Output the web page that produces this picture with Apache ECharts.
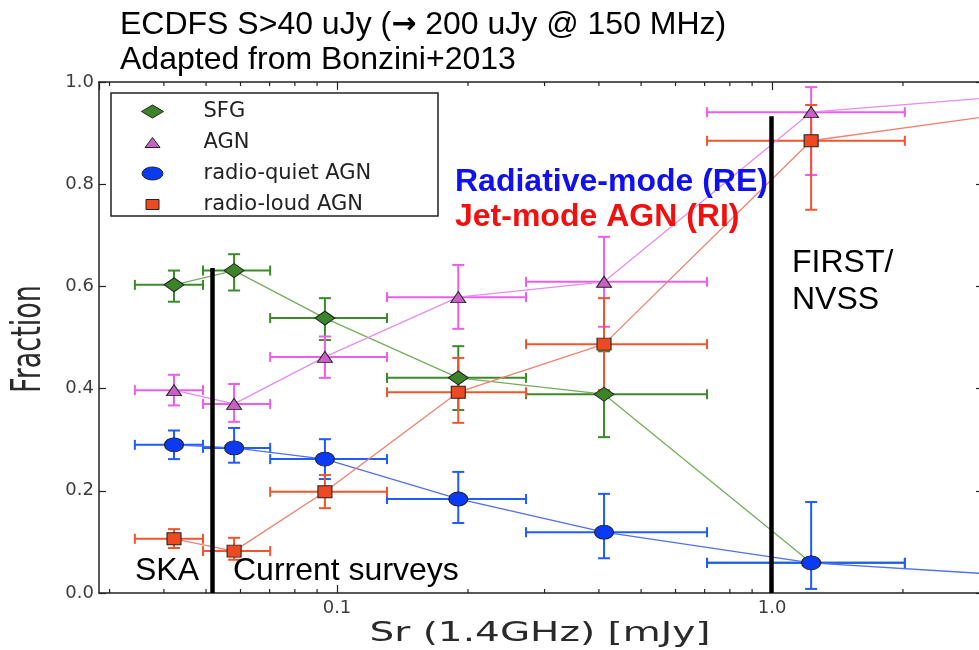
<!DOCTYPE html>
<html><head><meta charset="utf-8">
<script src="https://cdn.jsdelivr.net/npm/echarts@6/dist/echarts.min.js"></script>
<style>html,body{margin:0;padding:0;background:#fff}#c{width:979px;height:650px}</style>
</head><body><div id="c"></div>
<script>
// ---- data (flux bins in mJy, fractions) ----
const xMid = [0.0422, 0.058, 0.0938, 0.190, 0.411, 1.23];
const xLo  = [0.0343, 0.0492, 0.0702, 0.1303, 0.272, 0.709];
const xHi  = [0.0492, 0.0702, 0.1303, 0.272, 0.709, 2.02];
const xBeyond = 4.0;

const sfgY  = [0.603, 0.631, 0.538, 0.421, 0.389, 0.059];
const sfgLo = [0.570, 0.592, 0.495, 0.358, 0.305, 0.059];
const sfgHi = [0.631, 0.663, 0.577, 0.483, 0.473, 0.059];

const agnY  = [0.397, 0.370, 0.462, 0.579, 0.609, 0.941];
const agnLo = [0.367, 0.335, 0.421, 0.517, 0.521, 0.818];
const agnHi = [0.427, 0.409, 0.502, 0.642, 0.697, 0.990];
const agnBeyond = 0.976;

const rqY  = [0.290, 0.284, 0.262, 0.184, 0.119, 0.059];
const rqLo = [0.262, 0.255, 0.223, 0.137, 0.068, 0.008];
const rqHi = [0.318, 0.323, 0.301, 0.237, 0.194, 0.178];
const rqBeyond = 0.032;

const rlY  = [0.106, 0.082, 0.198, 0.393, 0.487, 0.885];
const rlLo = [0.088, 0.065, 0.166, 0.333, 0.397, 0.750];
const rlHi = [0.125, 0.108, 0.231, 0.460, 0.577, 0.955];
const rlBeyond = 0.945;

const seriesNames = ['SFG', 'AGN', 'radio-quiet AGN', 'radio-loud AGN'];
const minorTicks = [0.03,0.04,0.05,0.06,0.07,0.08,0.09,0.2,0.3,0.4,0.5,0.6,0.7,0.8,0.9,2,3];
const yTicks = [0, 0.2, 0.4, 0.6, 0.8, 1.0];
const xRange = [0.02837, 3.055];
const dividers = [{x: 0.0516, top: 0.636}, {x: 0.995, top: 0.933}];

// ---- styling ----
const COL = {
  sfg: {err:'#3a8a2a', line:'#74ad5c', fill:'#3b8428'},
  agn: {err:'#ee5cee', line:'#e68cf0', fill:'#c860c8'},
  rq:  {err:'#1f5bff', line:'#4f6ff5', fill:'#0a3af5'},
  rl:  {err:'#f0562e', line:'#f08070', fill:'#ee4a22'}
};

function errSeries(name, color, ys, los, his) {
  return {
    type: 'custom', name: name + ' errors', silent: true, z: 2, clip: true,
    encode: {x: 0, y: 1},
    data: xMid.map((x, i) => [x, ys[i], xLo[i], xHi[i], los[i], his[i]]),
    renderItem: function (params, api) {
      const x = api.value(0), y = api.value(1);
      const c = api.coord([x, y]);
      const pl = api.coord([api.value(2), y]);
      const ph = api.coord([api.value(3), y]);
      const st = {stroke: color, lineWidth: 2};
      const capH = 5, capW = 6;
      const ch = [
        {type:'line', shape:{x1:pl[0], y1:c[1], x2:ph[0], y2:c[1]}, style:st},
        {type:'line', shape:{x1:pl[0], y1:c[1]-capH, x2:pl[0], y2:c[1]+capH}, style:st},
        {type:'line', shape:{x1:ph[0], y1:c[1]-capH, x2:ph[0], y2:c[1]+capH}, style:st}
      ];
      if (api.value(5) > api.value(4)) {
        const pb = api.coord([x, api.value(4)]);
        const pt = api.coord([x, api.value(5)]);
        ch.push({type:'line', shape:{x1:c[0], y1:pb[1], x2:c[0], y2:pt[1]}, style:st});
        ch.push({type:'line', shape:{x1:c[0]-capW, y1:pb[1], x2:c[0]+capW, y2:pb[1]}, style:st});
        ch.push({type:'line', shape:{x1:c[0]-capW, y1:pt[1], x2:c[0]+capW, y2:pt[1]}, style:st});
      }
      return {type:'group', children: ch};
    }
  };
}

function lineSeries(name, col, ys, beyond, symbol, size) {
  const data = xMid.map((x, i) => [x, ys[i]]);
  if (beyond !== null) data.push([xBeyond, beyond]);
  return {
    type: 'line', name: name, z: 3, clip: true, symbol: symbol, symbolSize: size,
    showAllSymbol: true, animation: false, emphasis: {disabled: true},
    lineStyle: {color: col.line, width: 1.3},
    itemStyle: {color: col.fill, borderColor: '#222', borderWidth: 1},
    data: data
  };
}

const axisCommon = {
  axisLine: {show: true, onZero: false, lineStyle: {color: '#222', width: 1.5}},
  splitLine: {show: false}
};

const sfgLine = lineSeries(seriesNames[0], COL.sfg, sfgY, null, 'diamond', [20, 14]);
sfgLine.markLine = {
  silent: true, symbol: ['none', 'none'], animation: false,
  label: {show: false},
  lineStyle: {type: 'solid', color: '#000', width: 4.5},
  emphasis: {disabled: true},
  data: dividers.map(d => [{coord: [d.x, d.top]}, {coord: [d.x, 0]}])
};

const box = 'M0,0M22,14';
const option = {
  backgroundColor: '#fff',
  animation: false,
  grid: {left: 99, top: 82, right: -4, bottom: 57, containLabel: false, outerBoundsMode: 'none'},
  xAxis: [
    Object.assign({}, axisCommon, {
      type: 'log', min: xRange[0], max: xRange[1], position: 'bottom',
      axisTick: {show: true, inside: true, length: 8, lineStyle: {color: '#222', width: 1.2}},
      axisLabel: {
        show: true, margin: 6, color: '#3c3c3c', fontSize: 18, fontFamily: 'DejaVu Sans',
        showMinLabel: false, showMaxLabel: false,
        formatter: v => (v > 0.05 && v < 0.2) ? '0.1' : ((v > 0.5 && v < 2) ? '1.0' : '')
      }
    }),
    Object.assign({}, axisCommon, {
      type: 'log', min: xRange[0], max: xRange[1], position: 'top',
      axisTick: {show: true, inside: true, length: 8, lineStyle: {color: '#222', width: 1.2}},
      axisLabel: {show: false}
    })
  ],
  yAxis: [
    Object.assign({}, axisCommon, {
      type: 'value', min: yTicks[0], max: yTicks[yTicks.length-1], interval: 0.2, position: 'left',
      axisTick: {show: true, inside: true, length: 7, lineStyle: {color: '#222', width: 1.2}},
      axisLabel: {show: true, margin: 5, color: '#3c3c3c', fontSize: 18, fontFamily: 'DejaVu Sans',
        formatter: v => v.toFixed(1)}
    }),
    Object.assign({}, axisCommon, {
      type: 'value', min: yTicks[0], max: yTicks[yTicks.length-1], interval: 0.2, position: 'right',
      axisTick: {show: true, inside: true, length: 7, lineStyle: {color: '#222', width: 1.2}},
      axisLabel: {show: false}
    })
  ],
  legend: {
    orient: 'vertical', left: 141, top: 101, padding: 0,
    itemWidth: 22, itemHeight: 14, itemGap: 10, symbolKeepAspect: true, selectedMode: false,
    textStyle: {fontFamily: 'DejaVu Sans', fontSize: 21, color: '#222', lineHeight: 20,
      padding: [0, 0, 0, 35]},
    data: [
      {name: seriesNames[0], icon: 'path://' + box + 'M11,0.5L22,7L11,13.5L0,7Z',
        itemStyle: {color: COL.sfg.fill, borderColor: '#222', borderWidth: 1}},
      {name: seriesNames[1], icon: 'path://' + box + 'M11,2L18.5,12L3.5,12Z',
        itemStyle: {color: COL.agn.fill, borderColor: '#222', borderWidth: 1}},
      {name: seriesNames[2], icon: 'path://' + box + 'M0.5,7A10.5,6.5 0 1,0 21.5,7A10.5,6.5 0 1,0 0.5,7Z',
        itemStyle: {color: COL.rq.fill, borderColor: '#222', borderWidth: 1}},
      {name: seriesNames[3], icon: 'path://' + box + 'M4.5,2L17.5,2L17.5,12L4.5,12Z',
        itemStyle: {color: COL.rl.fill, borderColor: '#222', borderWidth: 1}}
    ]
  },
  graphic: [
    {type: 'rect', z: 1, shape: {x: 111, y: 93, width: 327, height: 123},
      style: {fill: '#fff', stroke: '#222', lineWidth: 1.5}},
    {type: 'text', z: 10, x: 120, y: 25, style: {
      text: 'ECDFS S>40 uJy ({a|\u2192} 200 uJy @ 150 MHz)',
      rich: {a: {fontSize: 30, fontFamily: 'DejaVu Sans', fontWeight: 'bold', fill: '#000'}},
      fontSize: 32, fontFamily: 'Liberation Sans', fill: '#000', verticalAlign: 'middle'}},
    {type: 'text', z: 10, x: 120, y: 60, style: {text: 'Adapted from Bonzini+2013',
      fontSize: 32, fontFamily: 'Liberation Sans', fill: '#000', verticalAlign: 'middle'}},
    {type: 'text', z: 10, x: 455, y: 182, style: {text: 'Radiative-mode (RE)',
      fontSize: 32, fontWeight: 'bold', fontFamily: 'Liberation Sans', fill: '#1010f0', verticalAlign: 'middle'}},
    {type: 'text', z: 10, x: 455, y: 217, style: {text: 'Jet-mode AGN (RI)',
      fontSize: 32, fontWeight: 'bold', fontFamily: 'Liberation Sans', fill: '#f01010', verticalAlign: 'middle'}},
    {type: 'text', z: 10, x: 792, y: 263, style: {text: 'FIRST/',
      fontSize: 32, fontFamily: 'Liberation Sans', fill: '#000', verticalAlign: 'middle'}},
    {type: 'text', z: 10, x: 792, y: 300, style: {text: 'NVSS',
      fontSize: 32, fontFamily: 'Liberation Sans', fill: '#000', verticalAlign: 'middle'}},
    {type: 'text', z: 10, x: 135, y: 571, style: {text: 'SKA',
      fontSize: 32, fontFamily: 'Liberation Sans', fill: '#000', verticalAlign: 'middle'}},
    {type: 'text', z: 10, x: 233, y: 571, style: {text: 'Current surveys',
      fontSize: 32, fontFamily: 'Liberation Sans', fill: '#000', verticalAlign: 'middle'}},
    {type: 'text', z: 10, x: 540, y: 634, scaleX: 1.5, style: {text: 'Sr (1.4GHz) [mJy]',
      fontSize: 26, fontFamily: 'DejaVu Sans', fill: '#2a2a2a', align: 'center', verticalAlign: 'middle'}},
    {type: 'text', z: 10, x: 29, y: 339, rotation: Math.PI / 2, scaleY: 1.5, style: {text: 'Fraction',
      fontSize: 27, fontFamily: 'DejaVu Sans', fill: '#2a2a2a', align: 'center', verticalAlign: 'middle'}}
  ],
  series: [
    errSeries(seriesNames[0], COL.sfg.err, sfgY, sfgLo, sfgHi),
    errSeries(seriesNames[1], COL.agn.err, agnY, agnLo, agnHi),
    errSeries(seriesNames[2], COL.rq.err, rqY, rqLo, rqHi),
    errSeries(seriesNames[3], COL.rl.err, rlY, rlLo, rlHi),
    sfgLine,
    lineSeries(seriesNames[1], COL.agn, agnY, agnBeyond, 'triangle', [15, 11]),
    lineSeries(seriesNames[2], COL.rq, rqY, rqBeyond, 'circle', [19, 14]),
    lineSeries(seriesNames[3], COL.rl, rlY, rlBeyond, 'rect', [14, 12]),
    {
      type: 'custom', name: 'minor ticks', silent: true, z: 5, clip: false,
      encode: {x: 0, y: 1},
      data: minorTicks.map(v => [v, 0]),
      renderItem: function (params, api) {
        const b = api.coord([api.value(0), 0]);
        const t = api.coord([api.value(0), 1]);
        const st = {stroke: '#222', lineWidth: 1.2};
        return {type: 'group', children: [
          {type: 'line', shape: {x1: b[0], y1: b[1], x2: b[0], y2: b[1] - 4}, style: st},
          {type: 'line', shape: {x1: t[0], y1: t[1], x2: t[0], y2: t[1] + 4}, style: st}
        ]};
      }
    }
  ]
};

const chart = echarts.init(document.getElementById('c'), null, {renderer: 'canvas'});
chart.setOption(option);
</script>
</body></html>
